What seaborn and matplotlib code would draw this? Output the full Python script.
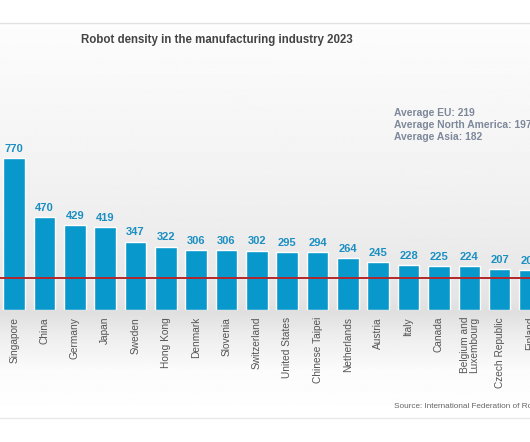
import numpy as np
import pandas as pd
import matplotlib.pyplot as plt
import seaborn as sns

# Robot density (robots per 10,000 employees)
countries = ['Singapore', 'China', 'Germany', 'Japan', 'Sweden', 'Hong Kong',
             'Denmark', 'Slovenia', 'Switzerland', 'United States', 'Chinese Taipei',
             'Netherlands', 'Austria', 'Italy', 'Canada', 'Belgium and\nLuxembourg',
             'Czech Republic', 'Finland']
density = [770, 470, 429, 419, 347, 322, 306, 306, 302, 295, 294, 264, 245, 228,
           225, 224, 207, 202]
world_avg = 162
region_notes = ['Average EU: 219', 'Average North America: 197', 'Average Asia: 182']

df = pd.DataFrame({'country': countries, 'density': density})

sns.set_style('white')
plt.rcParams['font.family'] = ['Liberation Sans', 'DejaVu Sans']

W, H = 530, 442
fig = plt.figure(figsize=(W / 100, H / 100), dpi=100)
fig.patch.set_facecolor('white')

# 1. grey gradient backdrop panel
panel_top, panel_bot, base = 23, 418, 310
bg = fig.add_axes([0, 1 - panel_bot / H, 1, (panel_bot - panel_top) / H])
ys = np.array([23, 80, 160, 240, 300, 312, 335, 370, 418])
vals = np.array([0.99, 0.975, 0.955, 0.925, 0.895, 0.875, 0.93, 0.985, 1.0])
grad = np.interp(np.arange(panel_top, panel_bot), ys, vals)
bg.imshow(np.repeat(grad[:, None], 2, axis=1), cmap='gray', vmin=0, vmax=1,
          aspect='auto', extent=[0, 1, 0, 1], interpolation='bilinear')
bg.set_axis_off()
fig.add_artist(plt.Line2D([0, 1], [1 - panel_top / H] * 2, color='#e2e2e2', lw=1))
fig.add_artist(plt.Line2D([0, 1], [1 - panel_bot / H] * 2, color='#e8e8e8', lw=1))

# 2. bars
ax = fig.add_axes([0, 1 - base / H, 1, (base - panel_top) / H])
ax.patch.set_alpha(0)
sns.barplot(data=df, x='country', y='density', color='#0898cb', width=0.71,
            saturation=1, ax=ax, zorder=2)
ax.bar_label(ax.containers[0], padding=3, fontsize=8, fontweight='bold',
             color='#1b8fc2')
ax.axhline(world_avg, color='#b3262b', lw=1.4, zorder=3)

px = 30.6  # pixels per category
ax.set_xlim(-14.2 / px, -14.2 / px + W / px)
ax.set_ylim(0, (base - panel_top) / 0.197)
ax.set_xlabel('')
ax.set_ylabel('')
ax.set_yticks([])
ax.tick_params(axis='x', length=0, pad=5)
ax.set_xticks(range(len(countries)))
ax.set_xticklabels(countries, rotation=90, fontsize=7.3, color='#555555',
                   linespacing=0.95)
sns.despine(ax=ax, left=True, bottom=True)

# 3. titles and notes
fig.text(81 / W, 1 - 40 / H, 'Robot density in the manufacturing industry 2023',
         fontsize=8.3, fontweight='bold', color='#444444', va='center', ha='left')
for i, note in enumerate(region_notes):
    fig.text(394 / W, 1 - (113.5 + 12 * i) / H, note, fontsize=7.4,
             fontweight='bold', color='#7d889a', va='center', ha='left')
fig.text(394 / W, 1 - 407 / H, 'Source: International Federation of Robotics',
         fontsize=5.9, color='#666666', va='center', ha='left')

fig.savefig('out.png', dpi=100)
